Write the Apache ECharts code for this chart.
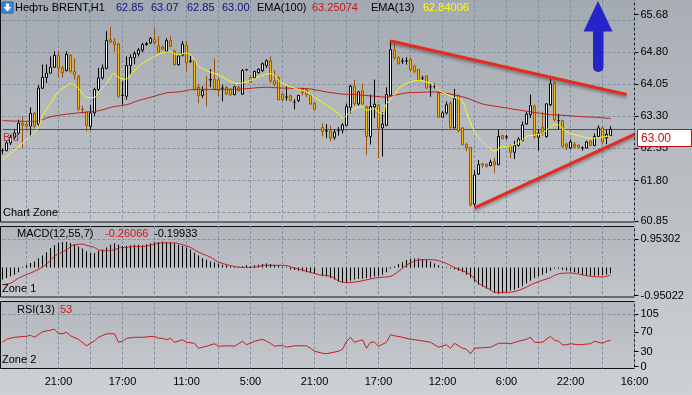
<!DOCTYPE html>
<html><head><meta charset="utf-8">
<script src="https://cdn.jsdelivr.net/npm/echarts@6/dist/echarts.min.js"></script>
<style>html,body{margin:0;padding:0;background:#bcc0c5}#c{width:692px;height:395px}</style>
</head><body><div id="c"></div>
<script>
// ---------- data ----------
const timeLabels = ['21:00','17:00','11:00','5:00','21:00','17:00','12:00','6:00','22:00','16:00'];
const labelBars  = [14,30,46,62,78,94,110,126,142,158];
const barCount = 159;

const openP = [62.50,62.50,62.68,62.81,62.91,63.14,63.12,63.07,63.37,63.12,
63.96,64.21,64.31,64.45,64.72,64.43,64.37,64.73,64.35,64.24,
63.47,63.40,63.07,63.38,63.93,64.20,64.42,65.09,65.04,64.99,
63.79,63.77,64.49,64.67,64.76,64.85,64.98,65.02,65.10,64.95,
64.92,64.82,65.07,64.82,64.51,64.73,64.96,64.59,64.59,63.98,
63.79,63.93,64.15,64.16,64.15,63.96,63.98,63.93,63.81,63.98,
63.82,64.39,64.21,64.20,64.32,64.37,64.49,64.60,64.13,64.20,
63.82,63.75,63.78,63.63,63.67,63.94,63.92,63.80,63.61,null,
63.04,62.96,62.96,62.81,62.97,62.98,63.09,63.51,64.00,63.59,
63.89,63.53,62.83,63.52,63.56,63.03,63.09,63.79,64.85,64.67,
64.59,64.60,64.63,64.47,64.39,64.19,64.24,63.99,64.00,63.85,
63.28,63.38,63.61,63.03,63.79,63.03,62.64,62.57,61.25,61.95,
62.19,62.18,62.15,62.24,62.17,62.85,62.82,62.60,62.46,62.62,
62.73,63.12,63.34,63.54,62.81,63.05,62.83,63.57,64.08,63.20,
63.20,62.65,62.56,62.65,62.63,62.56,62.56,62.72,62.62,62.83,
63.03,62.80,62.85];
const highP = [62.55,62.73,62.87,62.99,63.22,63.29,63.16,63.51,63.40,64.03,
64.51,64.51,64.70,64.82,64.82,64.49,64.82,64.75,64.66,64.26,
63.55,63.42,63.57,63.97,64.43,64.51,65.29,65.39,65.13,65.02,
64.12,64.70,64.75,64.82,64.90,65.02,65.04,65.16,65.35,65.17,
64.96,65.12,65.17,64.86,64.74,65.06,65.06,64.71,64.61,64.06,
64.00,64.24,64.40,64.65,64.20,64.04,64.01,63.96,64.02,64.02,
64.41,64.41,64.26,64.37,64.42,64.56,64.63,64.70,64.38,64.24,
63.85,64.00,63.81,63.70,63.80,63.96,63.94,63.82,63.63,null,
63.14,63.12,63.08,62.99,63.05,63.14,63.60,64.04,64.16,63.90,
64.06,63.55,63.81,64.16,63.59,63.40,63.98,65.07,65.07,64.71,
64.66,64.68,64.67,64.51,64.41,64.25,64.26,64.07,64.07,63.89,
63.42,63.65,63.65,63.94,63.80,63.05,62.68,62.59,62.05,62.28,
62.21,62.20,62.29,62.33,62.99,62.87,62.87,62.64,62.73,62.81,
63.18,63.41,63.81,63.58,62.99,63.41,63.61,64.20,64.12,63.36,
63.22,62.68,62.76,62.70,62.65,62.60,62.73,62.74,62.90,63.09,
63.07,62.98,63.07];
const lowP = [62.41,62.48,62.63,62.76,62.87,62.56,63.00,62.83,63.03,63.05,
63.94,64.08,64.30,64.43,64.21,64.20,64.35,64.31,64.16,63.43,
63.36,62.95,62.99,63.31,63.89,64.16,64.40,65.02,64.82,63.73,
63.57,63.69,64.28,64.52,64.70,64.80,64.95,64.99,64.98,64.78,
64.85,64.80,64.92,64.48,64.49,64.70,64.35,64.55,63.90,63.61,
63.73,63.53,63.98,63.90,63.77,63.65,63.80,63.78,63.79,63.88,
63.80,64.37,64.08,64.18,64.30,64.34,64.43,64.08,64.00,63.67,
63.67,63.67,63.65,63.46,63.63,63.79,63.75,63.57,63.44,null,
62.83,62.79,62.71,62.75,62.85,62.90,63.07,63.37,63.55,63.55,
63.57,62.40,62.64,63.26,62.32,62.36,63.07,63.77,64.63,64.51,
64.53,64.51,64.35,64.31,64.12,64.15,63.95,63.76,63.95,63.27,
63.27,63.34,62.99,63.02,62.92,62.62,62.48,61.19,61.19,61.93,
62.10,62.10,62.13,61.98,62.16,62.76,62.76,62.32,62.30,62.59,
62.72,63.10,63.26,62.77,62.50,62.85,62.80,63.54,63.18,63.00,
62.56,62.51,62.53,62.55,62.54,62.50,62.55,62.60,62.60,62.80,
62.64,62.65,62.85];
const closeP = [62.50,62.68,62.81,62.91,63.14,63.09,63.07,63.37,63.07,63.96,
64.21,64.31,64.45,64.72,64.43,64.32,64.75,64.35,64.28,63.47,
63.45,63.09,63.38,63.93,64.20,64.43,65.07,65.04,64.98,63.77,
63.79,64.49,64.68,64.77,64.85,64.98,65.00,65.12,65.02,64.80,
64.87,65.07,64.94,64.51,64.71,64.99,64.55,64.59,63.93,63.79,
63.90,63.92,64.16,63.93,63.90,63.96,63.82,63.81,63.99,63.90,
64.37,64.39,64.10,64.35,64.40,64.53,64.60,64.13,64.05,63.69,
63.69,63.75,63.67,63.63,63.79,63.86,63.81,63.59,63.46,null,
62.95,62.96,62.79,62.93,62.97,63.10,63.53,64.00,63.59,63.87,
63.59,62.83,63.53,63.58,63.03,63.12,63.81,64.86,64.67,64.53,
64.59,64.60,64.39,64.35,64.14,64.19,63.96,63.99,64.00,63.28,
63.38,63.57,63.04,63.71,62.96,62.64,62.57,61.23,61.93,62.17,
62.16,62.13,62.23,62.17,62.83,62.78,62.82,62.46,62.62,62.77,
63.10,63.35,63.55,62.83,62.91,62.90,63.59,64.06,63.22,63.20,
62.60,62.58,62.70,62.58,62.58,62.56,62.70,62.62,62.83,63.03,
62.70,62.88,63.00];

// indicator readings: [bar index, value]
const ema100 = [[0,63.20],[8,63.18],[12,63.29],[16,63.35],[20,63.39],[24,63.43],[28,63.53],[31,63.57],[34,63.67],[38,63.77],[41,63.85],[44,63.87],[48,63.93],[55,63.93],[60,63.94],[66,63.98],[70,63.96],[76,63.95],[81,63.87],[85,63.82],[88,63.81],[93,63.77],[96,63.75],[98,63.79],[101,63.85],[104,63.86],[108,63.87],[112,63.82],[116,63.73],[120,63.59],[125,63.51],[131,63.42],[137,63.34],[141,63.32],[145,63.29],[148,63.28],[152,63.25]];
const ema13 = [[0,62.29],[2,62.43],[4,62.59],[7,62.84],[9,63.06],[10,63.31],[12,63.60],[14,63.88],[16,64.01],[17,64.06],[18,64.04],[20,63.84],[21,63.74],[23,63.74],[24,63.88],[26,64.07],[28,64.30],[29,64.21],[31,64.17],[32,64.27],[34,64.46],[36,64.60],[38,64.70],[40,64.78],[42,64.81],[43,64.76],[44,64.74],[46,64.78],[47,64.74],[48,64.62],[49,64.48],[51,64.37],[54,64.27],[57,64.12],[59,64.07],[62,64.14],[64,64.22],[67,64.30],[68,64.26],[69,64.14],[71,64.03],[74,63.93],[76,63.87],[78,63.75],[81,63.56],[84,63.36],[85,63.26],[86,63.32],[88,63.48],[90,63.52],[91,63.44],[93,63.48],[94,63.40],[95,63.36],[96,63.60],[98,63.79],[99,63.95],[101,64.07],[103,64.13],[104,64.14],[106,64.10],[108,64.03],[109,63.92],[111,63.82],[113,63.74],[114,63.72],[115,63.65],[116,63.41],[118,62.94],[120,62.71],[122,62.54],[123,62.49],[125,62.59],[126,62.59],[128,62.64],[130,62.75],[131,62.83],[133,62.86],[134,62.88],[135,62.90],[137,63.06],[138,63.11],[139,63.10],[140,63.02],[141,62.94],[142,62.90],[144,62.85],[146,62.80],[148,62.79],[149,62.80],[151,62.83],[152,62.84]];

const macdHist = [-0.41,-0.36,-0.30,-0.25,-0.16,0.02,0.09,0.15,0.20,0.31,
0.40,0.51,0.65,0.74,0.82,0.85,0.85,0.82,0.76,0.70,
0.63,0.54,0.48,0.48,0.56,0.60,0.67,0.76,0.81,0.76,
0.72,0.72,0.74,0.76,0.76,0.74,0.78,0.81,0.84,0.85,
0.87,0.85,0.85,0.81,0.76,0.72,0.67,0.60,0.49,0.40,
0.31,0.26,0.20,0.17,0.12,0.09,0.07,0.04,0.03,0.02,
0.04,0.07,0.04,0.07,0.09,0.11,0.13,0.11,0.09,0.07,
0.02,-0.02,-0.07,-0.09,-0.11,-0.13,-0.16,-0.19,-0.22,null,
-0.27,-0.30,-0.36,-0.41,-0.47,-0.51,-0.49,-0.45,-0.41,-0.39,
-0.38,-0.36,-0.34,-0.31,-0.29,-0.25,-0.16,-0.04,0.04,0.11,
0.18,0.25,0.28,0.30,0.30,0.27,0.25,0.20,0.13,0.07,
0.02,-0.02,-0.04,-0.07,-0.11,-0.16,-0.25,-0.36,-0.47,-0.58,
-0.65,-0.72,-0.78,-0.86,-0.89,-0.87,-0.83,-0.78,-0.75,-0.69,
-0.63,-0.54,-0.45,-0.36,-0.30,-0.25,-0.19,-0.11,-0.04,-0.04,
-0.08,-0.11,-0.13,-0.16,-0.20,-0.25,-0.27,-0.28,-0.28,-0.27,
-0.26,-0.24,-0.20];
const macdSignal = [[0,-0.58],[2,-0.53],[4,-0.36],[8,-0.13],[11,0.11],[13,0.37],[16,0.59],[18,0.76],[20,0.78],[21,0.74],[23,0.67],[24,0.59],[26,0.56],[28,0.59],[29,0.65],[31,0.67],[33,0.70],[35,0.70],[38,0.78],[40,0.82],[43,0.82],[45,0.76],[47,0.67],[49,0.51],[52,0.34],[54,0.18],[58,0.03],[60,0.00],[63,0.01],[66,0.07],[70,0.07],[73,-0.02],[76,-0.13],[80,-0.27],[82,-0.30],[84,-0.45],[86,-0.51],[94,-0.34],[97,-0.30],[99,-0.13],[102,0.15],[105,0.26],[107,0.26],[110,0.18],[113,0.00],[117,-0.25],[119,-0.53],[122,-0.75],[123,-0.84],[127,-0.83],[130,-0.72],[133,-0.53],[137,-0.34],[139,-0.22],[142,-0.19],[145,-0.25],[147,-0.30],[150,-0.32],[152,-0.26]];
const rsi = [[0,49],[1,55],[3,59],[6,61],[7,63],[8,59],[10,70],[13,75],[14,67],[15,66],[16,69],[17,62],[19,55],[21,42],[23,52],[24,59],[26,66],[28,66],[29,49],[30,51],[31,57],[33,59],[35,59],[38,61],[39,57],[40,57],[41,54],[42,57],[43,49],[45,54],[46,49],[48,47],[49,37],[51,41],[53,46],[54,41],[57,42],[58,41],[60,51],[61,44],[63,51],[65,55],[66,51],[67,47],[68,41],[70,43],[71,39],[73,42],[76,42],[77,37],[78,31],[80,27],[81,26],[84,31],[85,35],[86,51],[87,59],[88,49],[90,54],[91,37],[92,49],[93,49],[94,41],[96,49],[97,64],[98,62],[100,59],[102,55],[104,53],[107,49],[109,39],[111,44],[112,37],[113,47],[115,37],[116,35],[117,26],[118,37],[122,39],[124,47],[126,47],[127,46],[129,51],[131,55],[132,59],[133,49],[135,49],[137,61],[138,53],[139,51],[140,44],[141,44],[142,46],[144,44],[147,46],[148,51],[150,47],[151,51],[152,53]];

const trendUpper = [[97,65.06],[156,63.81]];
const trendLower = [[118,61.16],[158,62.88]];
const bidPrice = 63.00;

const priceTicks = [60.85,61.80,62.55,63.30,64.05,64.80,65.68];
const priceGridLevels = [61.05,61.80,62.55,63.30,64.05,64.80,65.55];
const macdTicks = [-0.95022,0.95302];
const rsiTicks = [0,30,70,105];
const emaLast = ['63.25074','62.84006'];
const macdLast = ['-0.26066','-0.19933'];
const rsiLast = '53';

// ---------- chart ----------
const FONT = 'Liberation Sans, Arial, sans-serif';
const cats = Array.from({length: barCount}, (_, i) => String(i));
const lab = i => { const j = labelBars.indexOf(i); return j >= 0 ? timeLabels[j] : ''; };
const vGrid = i => i >= 6 && (i - 6) % 8 === 0;
const dash = {color: '#8391a2', type: [3, 2], width: 1};
const last = closeP.length - 1;

const chart = echarts.init(document.getElementById('c'), null, {renderer: 'canvas'});

function xAx(gi, showLabels) {
  return {
    type: 'category', gridIndex: gi, data: cats, boundaryGap: false,
    axisLine: {show: false}, axisTick: {show: false},
    axisLabel: {show: showLabels, interval: (i) => labelBars.includes(i), formatter: (v, i) => lab(i),
      color: '#000', fontSize: 11, fontFamily: FONT, margin: 8},
    splitLine: {show: true, interval: (i) => vGrid(i), lineStyle: dash}
  };
}
function yAx(gi, min, max, ticks, fmt) {
  return {
    type: 'value', gridIndex: gi, position: 'right', min: min, max: max, scale: true,
    axisLine: {show: false},
    axisTick: {show: true, length: 4, customValues: ticks, lineStyle: {color: '#000'}},
    axisLabel: {show: true, customValues: ticks, formatter: fmt, color: '#000', fontSize: 11, fontFamily: FONT, margin: 6},
    splitLine: {show: false}
  };
}

const g = (a, b) => ({type: 'linear', x: 0, y: 0, x2: 0, y2: 1, colorStops: [{offset: 0, color: a}, {offset: 1, color: b}]});

const option = {
  animation: false,
  grid: [
    {left: 2.5, right: 57.5, top: 0, height: 222},
    {left: 2.5, right: 57.5, top: 226, height: 71},
    {left: 2.5, right: 57.5, top: 301.5, height: 67}
  ],
  xAxis: [xAx(0, false), xAx(1, false), xAx(2, true)],
  yAxis: [
    yAx(0, 60.83, 66.02, priceTicks, v => v.toFixed(2)),
    yAx(1, -0.994, 1.389, macdTicks, v => v.toFixed(5)),
    yAx(2, -3.6, 130.7, rsiTicks, v => String(Math.round(v)))
  ],
  series: [
    {type: 'line', xAxisIndex: 0, yAxisIndex: 0, data: [], silent: true, z: 1,
     markLine: {silent: true, z: 1, symbol: 'none', label: {show: false}, lineStyle: dash,
       data: priceGridLevels.map(v => ({yAxis: v}))}},
    {type: 'candlestick', xAxisIndex: 0, yAxisIndex: 0, barWidth: 3, clip: false, z: 3,
     data: openP.map((o, i) => o == null ? '-' : [o, closeP[i], lowP[i], highP[i]]),
     itemStyle: {color: '#ffffff', color0: '#f9b90e', borderColor: '#000000', borderColor0: '#9a520e', borderColorDoji: '#000000', borderWidth: 1},
     markLine: {silent: true, z: 2, symbol: 'none', label: {show: false},
       lineStyle: {color: '#b52525', type: 'solid', width: 1}, data: [{yAxis: bidPrice}]}},
    {type: 'line', xAxisIndex: 0, yAxisIndex: 0, data: ema100, showSymbol: false, smooth: 0.3, z: 4,
     lineStyle: {color: '#c41c1c', width: 1}},
    {type: 'line', xAxisIndex: 0, yAxisIndex: 0, data: ema13, showSymbol: false, smooth: 0.4, z: 5,
     lineStyle: {color: '#ffff00', width: 1}},
    {type: 'line', xAxisIndex: 0, yAxisIndex: 0, data: trendUpper, showSymbol: false, z: 6, clip: false,
     lineStyle: {color: '#e52a1f', width: 3, shadowColor: 'rgba(40,40,40,0.45)', shadowBlur: 3, shadowOffsetY: 2}},
    {type: 'line', xAxisIndex: 0, yAxisIndex: 0, data: trendLower, showSymbol: false, z: 6, clip: false,
     lineStyle: {color: '#e52a1f', width: 3, shadowColor: 'rgba(40,40,40,0.45)', shadowBlur: 3, shadowOffsetY: 2}},
    {type: 'bar', xAxisIndex: 1, yAxisIndex: 1, data: macdHist.map(v => v == null ? '-' : v), barWidth: 1,
     itemStyle: {color: '#000'}, z: 3,
     markLine: {silent: true, z: 1, symbol: 'none', label: {show: false}, lineStyle: dash, data: [{yAxis: macdTicks[1]}]}},
    {type: 'line', xAxisIndex: 1, yAxisIndex: 1, data: macdSignal, showSymbol: false, smooth: 0.4, z: 4,
     lineStyle: {color: '#cc1a1a', width: 1}},
    {type: 'line', xAxisIndex: 2, yAxisIndex: 2, data: rsi, showSymbol: false, z: 4,
     lineStyle: {color: '#cc1a1a', width: 1},
     markLine: {silent: true, z: 1, symbol: 'none', label: {show: false}, lineStyle: dash, data: [{yAxis: rsiTicks[3]}]}}
  ]
};
chart.setOption(option);

const bidY = chart.convertToPixel({yAxisIndex: 0}, bidPrice);
const T = (x, y, text, color, size) => ({type: 'text', x: x, y: y, silent: true, z: 20,
  style: {text: text, fill: color, font: (size || 11) + 'px ' + FONT, verticalAlign: 'middle', align: 'left'}});

chart.setOption({
  graphic: [
    {type: 'rect', z: -5, silent: true, shape: {x: 0, y: 0, width: 692, height: 395}, style: {fill: g('#a9aeb5', '#cdd0d4')}},
    {type: 'rect', z: -4, silent: true, shape: {x: 0.5, y: -0.5, width: 634, height: 222.5}, style: {fill: g('#a3a9b1', '#c4c7cc'), stroke: '#111', lineWidth: 1}},
    {type: 'rect', z: -4, silent: true, shape: {x: 0.5, y: 226.5, width: 634, height: 70.5}, style: {fill: g('#b2b6bc', '#c2c5ca'), stroke: '#111', lineWidth: 1}},
    {type: 'rect', z: -4, silent: true, shape: {x: 0.5, y: 301.5, width: 634, height: 67}, style: {fill: g('#b4b8be', '#c4c7cc'), stroke: '#111', lineWidth: 1}},
    // header icon
    {type: 'rect', z: 20, silent: true, shape: {x: 2, y: 2, width: 11, height: 11}, style: {fill: '#3d88da', stroke: '#2a5fa8', lineWidth: 1}},
    {type: 'polygon', z: 21, silent: true, shape: {points: [[7.5, 11.5], [3.5, 7], [6, 7], [6, 3.5], [9, 3.5], [9, 7], [11.5, 7]]}, style: {fill: '#ffffff'}},
    T(15, 8.3, 'Нефть BRENT,H1', '#000'),
    T(116, 8.3, openP[last].toFixed(2), '#10107a'),
    T(151, 8.3, highP[last].toFixed(2), '#10107a'),
    T(187, 8.3, lowP[last].toFixed(2), '#10107a'),
    T(222, 8.3, closeP[last].toFixed(2), '#10107a'),
    T(257, 8.3, 'EMA(100)', '#000'),
    T(312, 8.3, emaLast[0], '#d01515'),
    T(371, 8.3, 'EMA(13)', '#000'),
    T(423, 8.3, emaLast[1], '#ffff00'),
    T(3, 212.5, 'Chart Zone', '#000'),
    T(3, bidY + 9, 'Bid', '#b83030'),
    T(17, 234, 'MACD(12,55,7)', '#000'),
    T(105, 234, macdLast[0], '#d01515'),
    T(154, 234, macdLast[1], '#000'),
    T(2, 288.5, 'Zone 1', '#000'),
    T(17, 310, 'RSI(13)', '#000'),
    T(60, 310, rsiLast, '#d01515'),
    T(2, 360.3, 'Zone 2', '#000'),
    // price tag
    {type: 'rect', z: 20, silent: true, shape: {x: 637.5, y: Math.round(bidY) + 0.5, width: 54, height: 17}, style: {fill: '#ffffff', stroke: '#c01010', lineWidth: 1}},
    T(641, Math.round(bidY) + 9.5, closeP[last].toFixed(2), '#c01010', 12),
    // blue arrow drawing
    {type: 'polygon', z: 20, silent: true, shape: {points: [[598, 1], [583.5, 31.5], [612.5, 31.5]]}, style: {fill: '#2424c8'}},
    {type: 'rect', z: 20, silent: true, shape: {x: 593, y: 28, width: 10.5, height: 44, r: [0, 0, 5, 5]}, style: {fill: '#2424c8'}}
  ]
});
</script></body></html>
